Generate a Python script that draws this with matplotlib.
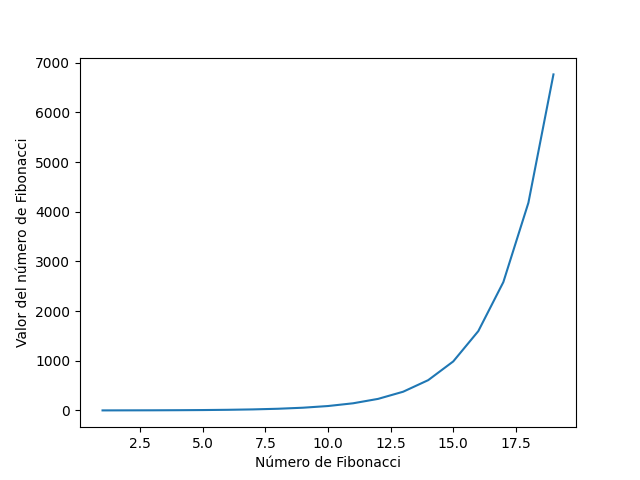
import matplotlib
matplotlib.use("Agg")
import matplotlib.pyplot as plt

# datos
posiciones = [1, 2, 3, 4, 5, 6, 7, 8, 9, 10, 11, 12, 13, 14, 15, 16, 17, 18, 19]
valores = [1, 2, 3, 5, 8, 13, 21, 34, 55, 89, 144, 233, 377, 610, 987, 1597, 2584, 4181, 6765]

plt.figure(figsize=(6.4, 4.8), dpi=100)
plt.plot(posiciones, valores)
plt.xlabel('Número de Fibonacci')
plt.ylabel('Valor del número de Fibonacci')
plt.savefig('out.png')
plt.close()
